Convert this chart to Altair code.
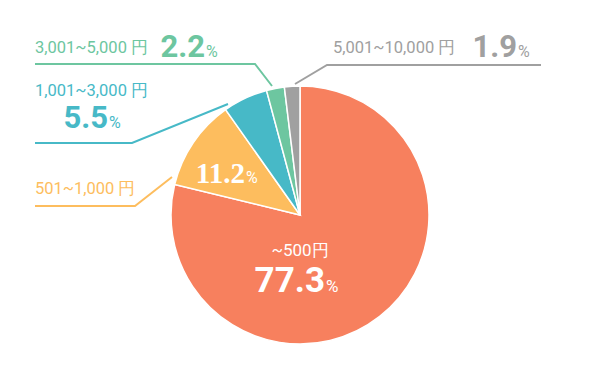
import altair as alt
import pandas as pd

# Slice data (clockwise from 12 o'clock)
categories = ["~500円", "501~1,000円", "1,001~3,000円", "3,001~5,000円", "5,001~10,000円"]
values = [77.3, 11.2, 5.5, 2.2, 1.9]
colors = ["#F7805E", "#FDBD5E", "#47B9C7", "#6DC6A0", "#A0A0A0"]
order = [0, 1, 2, 3, 4]

# Outside labels
label_text = ["3,001~5,000 円", "5,001~10,000 円", "1,001~3,000 円", "501~1,000 円"]
label_color = ["#6DC6A0", "#A0A0A0", "#47B9C7", "#FDBD5E"]
label_x = [35, 333, 35, 35]
label_y = [53, 53, 96, 194]

# Big percentage numbers
num_text = ["2.2", "1.9", "5.5", "77.3"]
num_color = ["#6DC6A0", "#A0A0A0", "#47B9C7", "#FFFFFF"]
num_x = [205, 517, 108, 325]
num_y = [57, 57, 128, 292]
num_size = [31, 31, 31, 35]

serif_text = ["11.2"]
serif_x = [245]
serif_y = [183]

pct_color = ["#6DC6A0", "#A0A0A0", "#47B9C7", "#FFFFFF", "#FFFFFF"]
pct_x = [206, 518, 109, 326, 246]
pct_y = [57, 57, 128, 292, 183]
pct_size = [16, 16, 16, 17, 16]

# Leader lines (label side -> elbow -> pie edge)
lead_cat = ["3,001~5,000", "5,001~10,000", "1,001~3,000", "501~1,000"]
lead_color = ["#6DC6A0", "#A0A0A0", "#47B9C7", "#FDBD5E"]
lead_x = [[35, 255, 272], [541, 327, 295], [35, 132, 228], [35, 135, 172]]
lead_y = [[64, 64, 86], [65, 65, 84], [143, 143, 104], [206, 206, 177]]

center_x, center_y, radius = 300, 215, 129
MARGIN = 8

xs = alt.Scale(domain=[8, 592])
ys = alt.Scale(domain=[8, 363], reverse=True)

pie_df = pd.DataFrame({"cat": categories, "value": values, "order": order, "color": colors})
pie = alt.Chart(pie_df).mark_arc(radius=radius, stroke="white", strokeWidth=1.5).encode(
    theta=alt.Theta("value:Q", stack=True),
    order=alt.Order("order:Q"),
    color=alt.Color("color:N", scale=None),
    x=alt.value(center_x - MARGIN),
    y=alt.value(center_y - MARGIN),
)

rows = []
for i, c in enumerate(lead_cat):
    for j in range(3):
        rows.append({"cat": c, "i": j, "x": lead_x[i][j], "y": lead_y[i][j], "color": lead_color[i]})
lead_df = pd.DataFrame(rows)
leads = alt.Chart(lead_df).mark_line(strokeWidth=2).encode(
    x=alt.X("x:Q", scale=xs, axis=None),
    y=alt.Y("y:Q", scale=ys, axis=None),
    detail="cat:N",
    order="i:Q",
    color=alt.Color("color:N", scale=None),
)

lab_df = pd.DataFrame({"t": label_text, "x": label_x, "y": label_y, "color": label_color})
labels = alt.Chart(lab_df).mark_text(align="left", baseline="alphabetic", font="Roboto", fontSize=16.5).encode(
    x=alt.X("x:Q", scale=xs, axis=None),
    y=alt.Y("y:Q", scale=ys, axis=None),
    text="t:N",
    color=alt.Color("color:N", scale=None),
)

center_df = pd.DataFrame({"t": [categories[0]], "x": [center_x], "y": [256]})
center_lab = alt.Chart(center_df).mark_text(align="center", baseline="alphabetic", font="Roboto", fontSize=17, color="white").encode(
    x=alt.X("x:Q", scale=xs, axis=None),
    y=alt.Y("y:Q", scale=ys, axis=None),
    text="t:N",
)

num_df = pd.DataFrame({"t": num_text, "x": num_x, "y": num_y, "color": num_color, "s": num_size})
nums = alt.Chart(num_df).mark_text(align="right", baseline="alphabetic", font="Roboto", fontWeight="bold").encode(
    x=alt.X("x:Q", scale=xs, axis=None),
    y=alt.Y("y:Q", scale=ys, axis=None),
    text="t:N",
    color=alt.Color("color:N", scale=None),
    size=alt.Size("s:Q", scale=None),
)

serif_df = pd.DataFrame({"t": serif_text, "x": serif_x, "y": serif_y})
serif = alt.Chart(serif_df).mark_text(align="right", baseline="alphabetic", font="Liberation Serif", fontWeight="bold", fontSize=29, color="white").encode(
    x=alt.X("x:Q", scale=xs, axis=None),
    y=alt.Y("y:Q", scale=ys, axis=None),
    text="t:N",
)

pct_df = pd.DataFrame({"t": ["%"] * 5, "x": pct_x, "y": pct_y, "color": pct_color, "s": pct_size})
pcts = alt.Chart(pct_df).mark_text(align="left", baseline="alphabetic", font="Roboto").encode(
    x=alt.X("x:Q", scale=xs, axis=None),
    y=alt.Y("y:Q", scale=ys, axis=None),
    text="t:N",
    color=alt.Color("color:N", scale=None),
    size=alt.Size("s:Q", scale=None),
)

chart = alt.layer(pie, leads, labels, center_lab, nums, serif, pcts).properties(
    width=584, height=355, padding=0,
    autosize=alt.AutoSizeParams(type="none"),
).configure_view(stroke=None)

chart.save("out.html", embed_options={"renderer": "svg", "actions": False})
